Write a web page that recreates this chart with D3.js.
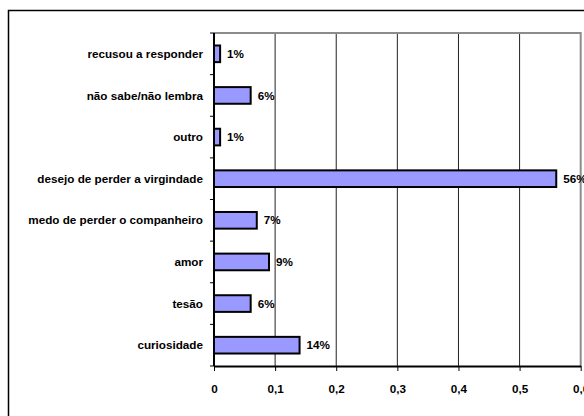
<!DOCTYPE html>
<html>
<head>
<meta charset="utf-8">
<script src="https://cdn.jsdelivr.net/npm/d3@7"></script>
<style>
  html, body { margin: 0; padding: 0; background: #fff; }
  svg { display: block; }
  text { font-family: "Liberation Sans", Arial, sans-serif; font-weight: bold; fill: #000; }
</style>
</head>
<body>
<script>
// Motivos para a primeira relação sexual
const categories = [
  "recusou a responder",
  "não sabe/não lembra",
  "outro",
  "desejo de perder a virgindade",
  "medo de perder o companheiro",
  "amor",
  "tesão",
  "curiosidade"
];
const values = [0.01, 0.06, 0.01, 0.56, 0.07, 0.09, 0.06, 0.14];
const valueLabels = ["1%", "6%", "1%", "56%", "7%", "9%", "6%", "14%"];
const xTicks = [0, 0.1, 0.2, 0.3, 0.4, 0.5, 0.6];
const xTickLabels = ["0", "0,1", "0,2", "0,3", "0,4", "0,5", "0,6"];

const W = 584, H = 416;
const plot = { left: 214, right: 580.7, top: 33, bottom: 366 };
const fontSize = 11.7;

const svg = d3.select("body").append("svg")
  .attr("width", W).attr("height", H);

// outer chart frame (continues past the window edges)
svg.append("rect")
  .attr("x", 8.5).attr("y", 10.5)
  .attr("width", 640).attr("height", 440)
  .attr("fill", "#fff").attr("stroke", "#000").attr("stroke-width", 1.5);

const x = d3.scaleLinear().domain([0, 0.6]).range([plot.left, plot.right]);
const y = d3.scaleBand().domain(categories).range([plot.top, plot.bottom])
  .paddingInner(0.6).paddingOuter(0.3);

// vertical gridlines
svg.append("g").selectAll("line")
  .data(xTicks.slice(1, -1))
  .join("line")
  .attr("x1", d => x(d)).attr("x2", d => x(d))
  .attr("y1", plot.top).attr("y2", plot.bottom)
  .attr("stroke", "#222").attr("stroke-width", 1);

// plot-area border top and right (grey)
svg.append("path")
  .attr("d", `M${plot.left},${plot.top}H${plot.right}V${plot.bottom}`)
  .attr("fill", "none").attr("stroke", "#8c8c8c").attr("stroke-width", 2);

// bars
svg.append("g").selectAll("rect")
  .data(values)
  .join("rect")
  .attr("x", x(0))
  .attr("y", (d, i) => y(categories[i]))
  .attr("width", d => x(d) - x(0))
  .attr("height", y.bandwidth())
  .attr("fill", "#9999ff")
  .attr("stroke", "#000").attr("stroke-width", 2);

// value labels
svg.append("g").selectAll("text")
  .data(values)
  .join("text")
  .attr("x", d => x(d) + 7)
  .attr("y", (d, i) => y(categories[i]) + y.bandwidth() / 2)
  .attr("dy", "0.35em")
  .attr("font-size", fontSize)
  .text((d, i) => valueLabels[i]);

// y axis
const yAxis = svg.append("g")
  .attr("transform", `translate(${plot.left},0)`);
yAxis.append("line")
  .attr("x1", 0).attr("x2", 0)
  .attr("y1", plot.top).attr("y2", plot.bottom)
  .attr("stroke", "#000").attr("stroke-width", 2);
// ticks at the category boundaries
yAxis.selectAll("line.tick")
  .data(d3.range(categories.length + 1))
  .join("line").attr("class", "tick")
  .attr("x1", -4).attr("x2", 0)
  .attr("y1", i => plot.top + i * (plot.bottom - plot.top) / categories.length)
  .attr("y2", i => plot.top + i * (plot.bottom - plot.top) / categories.length)
  .attr("stroke", "#000").attr("stroke-width", 1);
yAxis.selectAll("text")
  .data(categories)
  .join("text")
  .attr("x", -11)
  .attr("y", d => y(d) + y.bandwidth() / 2)
  .attr("dy", "0.35em")
  .attr("text-anchor", "end")
  .attr("font-size", fontSize)
  .text(d => d);

// x axis
const xAxis = svg.append("g")
  .attr("transform", `translate(0,${plot.bottom})`)
  .call(d3.axisBottom(x).tickValues(xTicks)
    .tickFormat((d, i) => xTickLabels[i])
    .tickSize(5).tickSizeOuter(0).tickPadding(14));
xAxis.select(".domain").attr("stroke", "#000").attr("stroke-width", 2);
xAxis.selectAll(".tick line").attr("stroke", "#000");
xAxis.selectAll(".tick text")
  .attr("font-size", fontSize)
  .attr("font-family", "Liberation Sans, Arial, sans-serif")
  .attr("font-weight", "bold");
</script>
</body>
</html>
